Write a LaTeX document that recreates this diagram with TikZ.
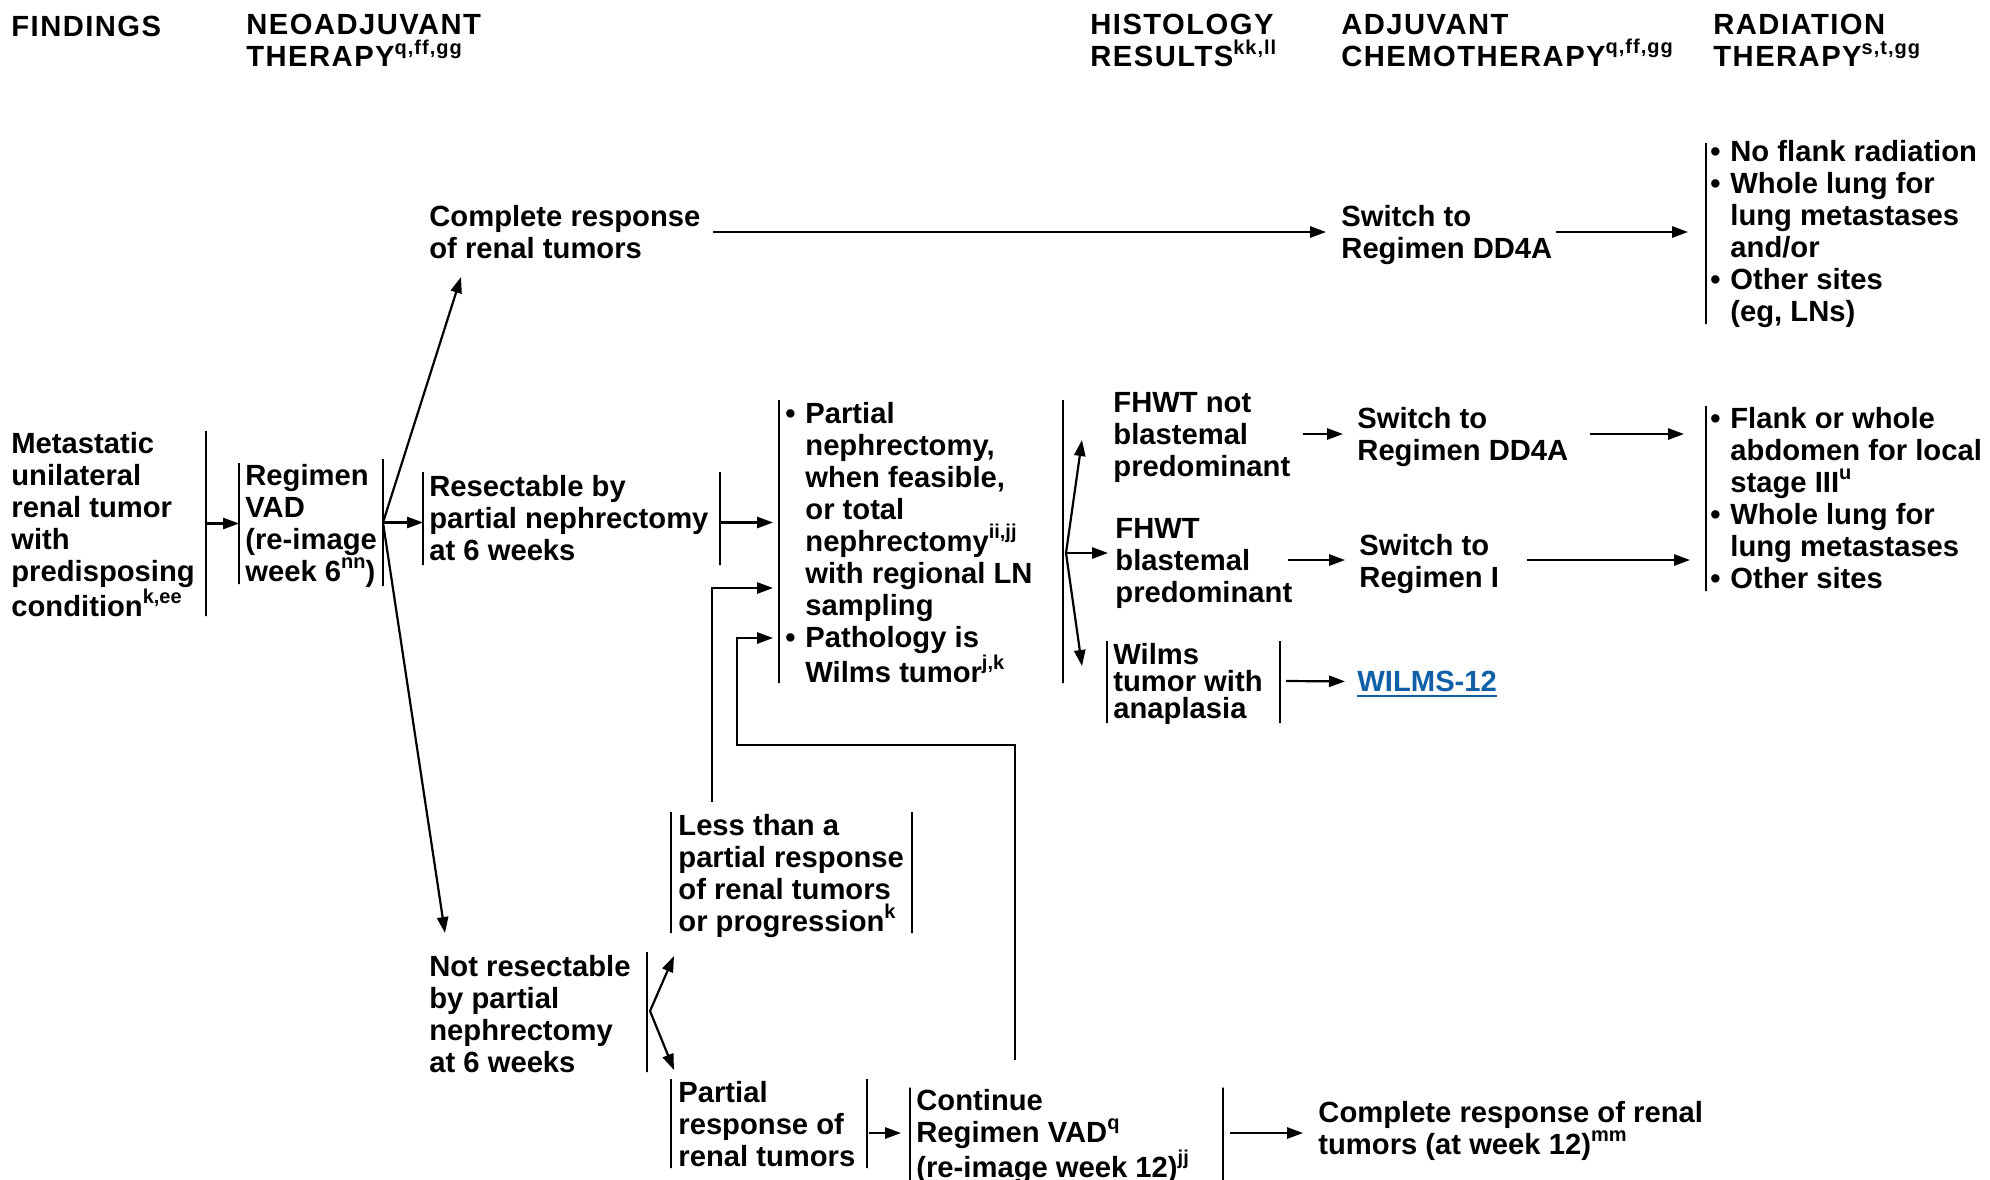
\documentclass[tikz,border=0pt]{standalone}
\usepackage{fontspec}
\setmainfont{Liberation Sans}
\usetikzlibrary{arrows.meta,calc}
\definecolor{linkblue}{RGB}{16,96,168}
\newcommand\supx[1]{\raisebox{0.42em}{\fontsize{10}{10}\selectfont #1}}
\newcommand\bul{\makebox[10pt][l]{•}}
\newcommand\ind{\hspace*{10pt}}
\newcommand\topstrut{\rule{0pt}{11.2pt}}

\begin{document}
\begin{tikzpicture}[x=0.5pt,y=-0.5pt,
  % a text node is placed by the baseline of its first line
  txt/.style={anchor=north west, yshift=11.2pt, inner sep=0pt, align=left,
    execute at begin node=\topstrut,
    font=\bfseries\fontsize{14.6}{16}\selectfont},
  head/.style={txt, font=\bfseries\fontsize{14.6}{16}\selectfont\addfontfeatures{LetterSpace=5}},
  vbar/.style={draw, line width=1pt, inner sep=0pt, outer sep=0pt,
    minimum width=0pt, minimum height=#1*0.5pt},
  arr/.style={line width=1.1pt, -{Triangle[length=8pt,width=5.6pt]}}
]
\useasboundingbox (0,0) rectangle (1990,1179);

% column headings
\node[head] (h1) at (11,36) {FINDINGS};
\node[head] (h2) at (246,36) {NEOADJUVANT\\THERAPY\supx{q,ff,gg}};
\node[head] (h3) at (1090,36) {HISTOLOGY\\RESULTS\supx{kk,ll}};
\node[head] (h4) at (1341,36) {ADJUVANT\\CHEMOTHERAPY\supx{q,ff,gg}};
\node[head] (h5) at (1713,36) {RADIATION\\THERAPY\supx{s,t,gg}};

% findings and neoadjuvant therapy
\node[txt] (find) at (11,454) {Metastatic\\unilateral\\renal tumor\\with\\predisposing\\condition\supx{k,ee}};
\node[vbar=185] (findR) at (206,523.5) {};
\node[vbar=121] (vadL) at (239,523.5) {};
\node[txt] (vad) at (245,486) {Regimen\\VAD\\(re-image\\week 6\supx{nn})};
\node[vbar=127] (vadR) at (383,522.5) {};

% response at 6 weeks
\node[txt] (cr) at (429,227) {Complete response\\of renal tumors};
\node[vbar=93] (resL) at (423,518.5) {};
\node[txt] (res) at (429,497) {Resectable by\\partial nephrectomy\\at 6 weeks};
\node[vbar=93] (resR) at (720,518.5) {};
\node[txt] (nr) at (429,977) {Not resectable\\by partial\\nephrectomy\\at 6 weeks};
\node[vbar=120] (nrR) at (647,1012) {};

% complete response branch
\node[txt] (sw1) at (1341,227) {Switch to\\Regimen DD4A};
\node[vbar=181] (rt1L) at (1706,233.5) {};
\node[txt] (rt1) at (1710,162) {\bul No flank radiation\\\bul Whole lung for\\\ind lung metastases\\\ind and/or\\\bul Other sites\\\ind (eg, LNs)};

% surgery
\node[vbar=283] (surgL) at (779,541.5) {};
\node[txt] (surg) at (785,424) {\bul Partial\\\ind nephrectomy,\\\ind when feasible,\\\ind or total\\\ind nephrectomy\supx{ii,jj}\\\ind with regional LN\\\ind sampling\\\bul Pathology is\\\ind Wilms tumor\supx{j,k}};
\node[vbar=283] (surgR) at (1063,541.5) {};

% histology
\node[txt] (fh1) at (1113,414) {FHWT not\\blastemal\\predominant};
\node[txt] (fh2) at (1115,540) {FHWT\\blastemal\\predominant};
\node[vbar=82] (waL) at (1107,682) {};
\node[txt, font=\bfseries\fontsize{14.6}{13.5}\selectfont] (wa) at (1113,665) {Wilms\\tumor with\\anaplasia};
\node[vbar=82] (waR) at (1280,682) {};

% adjuvant chemotherapy and radiation
\node[txt] (sw2) at (1357,429) {Switch to\\Regimen DD4A};
\node[txt] (sw3) at (1359,556) {Switch to\\Regimen I};
\node[vbar=185] (rt2L) at (1706,498.5) {};
\node[txt] (rt2) at (1710,429) {\bul Flank or whole\\\ind abdomen for local\\\ind stage III\supx{u}\\\bul Whole lung for\\\ind lung metastases\\\bul Other sites};
\node[txt, text=linkblue] (w12) at (1357,691) {WILMS-12};
\draw[linkblue, line width=1pt] ($(w12.base west)+(0,5)$) -- ($(w12.base east)+(0,5)$);

% not resectable branch
\node[vbar=121] (lessL) at (671,872.5) {};
\node[txt] (less) at (678,836) {Less than a\\partial response\\of renal tumors\\or progression\supx{k}};
\node[vbar=121] (lessR) at (912,872.5) {};
\node[vbar=89] (partL) at (671,1123.5) {};
\node[txt] (part) at (678,1103) {Partial\\response of\\renal tumors};
\node[vbar=89] (partR) at (867,1123.5) {};
\node[vbar=95] (contL) at (910,1135) {};
\node[txt] (cont) at (916,1111) {Continue\\Regimen VAD\supx{q}\\(re-image week 12)\supx{jj}};
\node[vbar=95] (contR) at (1223,1135) {};
\node[txt] (cr12) at (1318,1123) {Complete response of renal\\tumors (at week 12)\supx{mm}};

% connectors
\draw[arr] (findR.center) -- (vadL.center);
\draw[arr] (vadR.center) -- ($(cr.north west)+(32,72.4)$);
\draw[arr] (vadR.center) -- (resL.center |- vadR.center);
\draw[arr] (vadR.center) -- ($(nr.north west)+(16,-21.6)$);
\draw[arr] ($(cr.north west)+(284,27.4)$) -- ($(sw1.north west)+(-15,27.4)$);
\draw[arr] ($(sw1.north west)+(215,27.4)$) -- ($(rt1L.center)+(-18,-1.5)$);
\draw[arr] (resR.center |- vadR.center) -- ($(surgL.center |- vadR.center)+(-6,0)$);

\coordinate (hfan) at ($(surgR.center)+(3,11.5)$);
\draw[arr] (hfan) -- ($(fh1.north west)+(-31,48.4)$);
\draw[arr] (hfan) -- ($(fh2.north west)+(-7,35.4)$);
\draw[arr] (hfan) -- ($(waL.center)+(-25,-16)$);

\draw[arr] ($(sw2.north west)+(-54,27.4)$) -- ($(sw2.north west)+(-14,27.4)$);
\draw[arr] ($(sw2.north west)+(233,27.4)$) -- ($(rt2L.center)+(-22,-64.5)$);
\draw[arr] ($(sw3.north west)+(-71,26.4)$) -- ($(sw3.north west)+(-14,26.4)$);
\draw[arr] ($(sw3.north west)+(168,26.4)$) -- ($(rt2L.center)+(-16,61.5)$);
\draw[arr] ($(waR.center)+(6,-1)$) -- ($(w12.base west)+(-12,-10)$);

\coordinate (nfan) at ($(nrR.center)+(3,-1)$);
\draw[arr] (nfan) -- ($(lessL.center)+(3,83.5)$);
\draw[arr] (nfan) -- ($(partL.center)+(3,-53.5)$);

\draw[arr] ($(lessL.center)+(41,-70.5)$) |- ($(surgL.center)+(-6,46.5)$);
\draw[arr] ($(contL.center)+(105,-75)$) |- ($(partL.center)+(66,-378.5)$) |- ($(surgL.center)+(-6,96.5)$);
\draw[arr] ($(partR.center)+(2,9.5)$) -- ($(contL.center)+(-9,-2)$);
\draw[arr] ($(contR.center)+(7,-2)$) -- ($(cr12.north west)+(-15,32.4)$);
\end{tikzpicture}
\end{document}
